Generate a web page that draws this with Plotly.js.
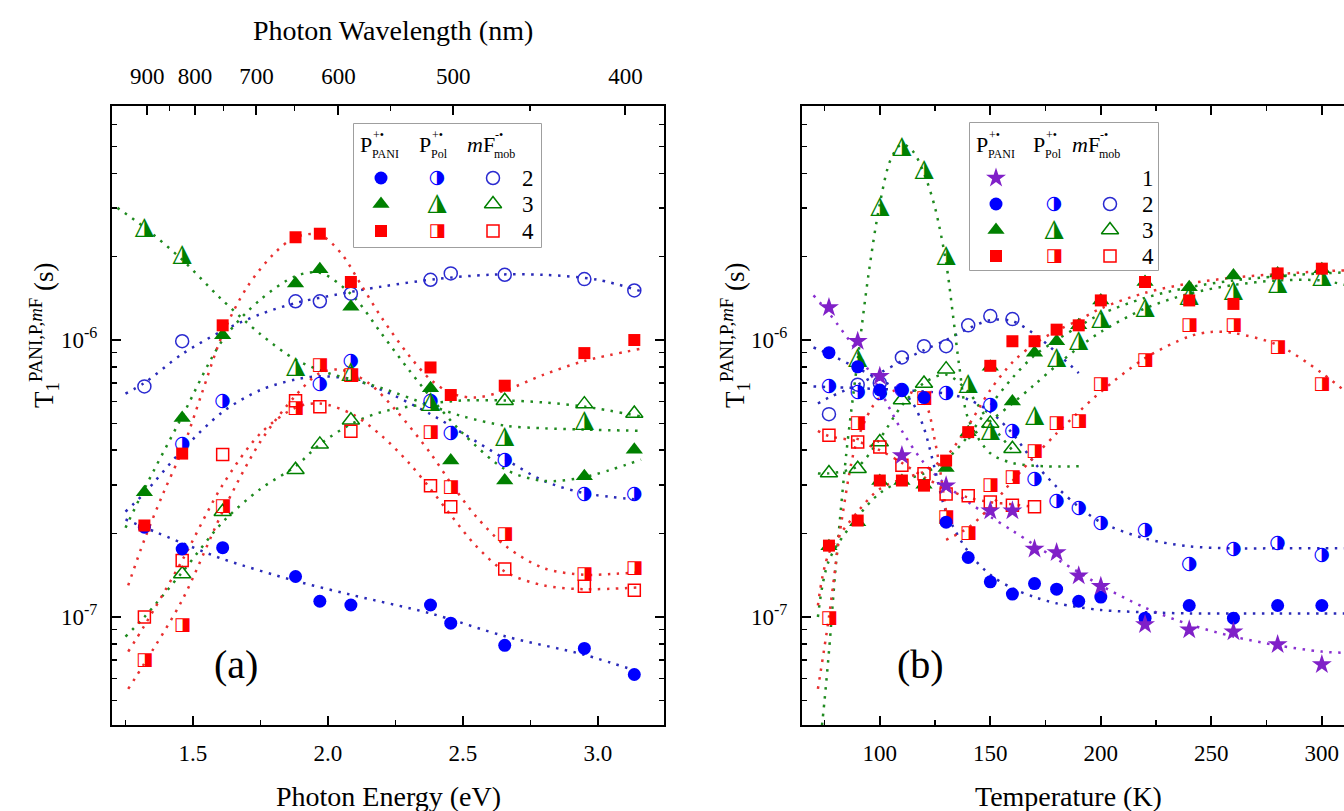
<!DOCTYPE html>
<html><head><meta charset="utf-8">
<script src="https://cdn.plot.ly/plotly-3.0.1.min.js"></script>
<style>html,body{margin:0;padding:0;overflow:hidden;background:#fff}#chart{width:1400px;height:811px}</style>
</head><body><div id="chart"></div>
<script>
// ---------------- Panel (a): photon energy (eV) ----------------
const energiesA = [1.32, 1.46, 1.61, 1.88, 1.97, 2.085, 2.38, 2.455, 2.655, 2.95, 3.135];
const a_pani2 = [2.11e-7, 1.76e-7, 1.78e-7, 1.40e-7, 1.14e-7, 1.105e-7, 1.105e-7, 9.5e-8, 7.9e-8, 7.7e-8, 6.2e-8];
const a_pol2  = [null, 4.2e-7, 6.0e-7, null, 6.9e-7, 8.4e-7, 6.0e-7, 4.6e-7, 3.67e-7, 2.78e-7, 2.78e-7];
const a_mf2   = [6.8e-7, 9.9e-7, null, 1.38e-6, 1.38e-6, 1.47e-6, 1.65e-6, 1.74e-6, 1.72e-6, 1.66e-6, 1.51e-6];
const a_pani3 = [2.82e-7, 5.23e-7, 1.04e-6, 1.6e-6, 1.8e-6, 1.32e-6, 6.7e-7, 3.67e-7, 3.11e-7, 3.22e-7, 4.02e-7];
const a_pol3  = [2.55e-6, 2.03e-6, null, 8.0e-7, null, 7.7e-7, 6.0e-7, null, 4.47e-7, 5.1e-7, null];
const a_mf3   = [null, 1.43e-7, 2.4e-7, 3.4e-7, 4.2e-7, 5.13e-7, null, null, 6.04e-7, 5.87e-7, 5.43e-7];
const a_pani4 = [2.14e-7, 3.89e-7, 1.13e-6, 2.35e-6, 2.42e-6, 1.62e-6, 7.96e-7, 6.33e-7, 6.84e-7, 8.97e-7, 1.0e-6];
const a_pol4  = [6.97e-8, 9.35e-8, 2.5e-7, 5.65e-7, 8.07e-7, 7.43e-7, 4.62e-7, 2.93e-7, 1.99e-7, 1.42e-7, 1.5e-7];
const a_mf4   = [1.0e-7, 1.6e-7, 3.86e-7, 6.03e-7, 5.74e-7, 4.68e-7, 2.98e-7, 2.5e-7, 1.49e-7, 1.29e-7, 1.25e-7];

// dotted fit curves
const fitA_pani2_x = [1.25, 1.46, 1.61, 1.88, 2.09, 2.38, 2.66, 2.95, 3.16];
const fitA_pani2_y = [2.25e-7, 1.85e-7, 1.62e-7, 1.35e-7, 1.2e-7, 1.03e-7, 8.5e-8, 7.3e-8, 6.3e-8];
const fitA_pol2_x = [1.25, 1.32, 1.46, 1.61, 1.75, 1.88, 1.97, 2.09, 2.2, 2.38, 2.5, 2.66, 2.8, 2.95, 3.16];
const fitA_pol2_y = [2.4e-7, 2.8e-7, 4.0e-7, 5.5e-7, 6.6e-7, 7.2e-7, 7.4e-7, 7.2e-7, 6.6e-7, 5.4e-7, 4.6e-7, 3.7e-7, 3.1e-7, 2.8e-7, 2.65e-7];
const fitA_mf2_x = [1.25, 1.32, 1.46, 1.61, 1.75, 1.88, 2.0, 2.2, 2.4, 2.6, 2.8, 3.0, 3.16];
const fitA_mf2_y = [6.4e-7, 7.0e-7, 8.9e-7, 1.08e-6, 1.24e-6, 1.36e-6, 1.44e-6, 1.56e-6, 1.66e-6, 1.72e-6, 1.72e-6, 1.65e-6, 1.5e-6];
const fitA_pani3_x = [1.25, 1.32, 1.46, 1.61, 1.75, 1.88, 1.97, 2.09, 2.2, 2.3, 2.4, 2.5, 2.66, 2.8, 2.95, 3.16];
const fitA_pani3_y = [2.1e-7, 2.9e-7, 5.3e-7, 1.0e-6, 1.4e-6, 1.7e-6, 1.75e-6, 1.45e-6, 1.05e-6, 7.8e-7, 5.9e-7, 4.6e-7, 3.4e-7, 3.1e-7, 3.2e-7, 3.7e-7];
const fitA_pol3_x = [1.22, 1.32, 1.46, 1.6, 1.75, 1.88, 2.0, 2.09, 2.2, 2.38, 2.5, 2.66, 2.8, 2.95, 3.16];
const fitA_pol3_y = [3.0e-6, 2.55e-6, 1.95e-6, 1.42e-6, 1.05e-6, 8.5e-7, 7.6e-7, 7.2e-7, 6.7e-7, 5.8e-7, 5.3e-7, 4.9e-7, 4.8e-7, 4.75e-7, 4.7e-7];
const fitA_mf3_x = [1.25, 1.32, 1.46, 1.61, 1.75, 1.88, 1.97, 2.09, 2.2, 2.38, 2.5, 2.66, 2.8, 2.95, 3.16];
const fitA_mf3_y = [8.5e-8, 1.0e-7, 1.45e-7, 2.2e-7, 2.9e-7, 3.5e-7, 4.2e-7, 5.0e-7, 5.5e-7, 5.9e-7, 6.05e-7, 6.05e-7, 5.95e-7, 5.75e-7, 5.3e-7];
const fitA_pani4_x = [1.26, 1.32, 1.39, 1.46, 1.53, 1.61, 1.7, 1.8, 1.88, 1.97, 2.05, 2.12, 2.2, 2.3, 2.38, 2.46, 2.55, 2.66, 2.8, 2.95, 3.16];
const fitA_pani4_y = [1.3e-7, 1.9e-7, 2.8e-7, 4.0e-7, 6.3e-7, 1.05e-6, 1.55e-6, 2.05e-6, 2.35e-6, 2.4e-6, 2.05e-6, 1.6e-6, 1.2e-6, 8.8e-7, 7.2e-7, 6.4e-7, 6.2e-7, 6.6e-7, 7.5e-7, 8.4e-7, 9.3e-7];
const fitA_pol4_x = [1.26, 1.32, 1.46, 1.61, 1.75, 1.88, 1.97, 2.05, 2.15, 2.25, 2.38, 2.46, 2.55, 2.66, 2.8, 2.95, 3.05, 3.16];
const fitA_pol4_y = [5.5e-8, 6.8e-8, 1.15e-7, 2.4e-7, 4.3e-7, 6.3e-7, 7.6e-7, 7.8e-7, 7.0e-7, 5.6e-7, 3.9e-7, 3.0e-7, 2.3e-7, 1.8e-7, 1.5e-7, 1.42e-7, 1.43e-7, 1.45e-7];
const fitA_mf4_x = [1.26, 1.32, 1.46, 1.61, 1.75, 1.88, 1.97, 2.09, 2.2, 2.3, 2.38, 2.46, 2.55, 2.66, 2.8, 2.95, 3.16];
const fitA_mf4_y = [7.5e-8, 9.3e-8, 1.6e-7, 3.0e-7, 4.6e-7, 5.7e-7, 5.9e-7, 5.4e-7, 4.5e-7, 3.6e-7, 2.9e-7, 2.3e-7, 1.8e-7, 1.45e-7, 1.3e-7, 1.26e-7, 1.28e-7];

// top axis: photon wavelength (nm)
const wavelengthTicks = [900, 800, 700, 600, 500, 400];
const wavelengthMinor = [850, 750, 650, 550, 450];

// ---------------- Panel (b): temperature (K) ----------------
const tempsB = [77, 90, 100, 110, 120, 130, 140, 150, 160, 170, 180, 190, 200, 220, 240, 260, 280, 300];
const b_pani1 = [1.31e-6, 9.9e-7, 7.4e-7, 3.83e-7, null, 2.98e-7, null, 2.42e-7, 2.42e-7, 1.76e-7, 1.71e-7, 1.41e-7, 1.29e-7, 9.4e-8, 9.0e-8, 8.85e-8, 7.96e-8, 6.74e-8];
const b_pani2 = [9.0e-7, 8.0e-7, 6.6e-7, 6.6e-7, 6.2e-7, 2.2e-7, 1.64e-7, 1.34e-7, 1.21e-7, 1.32e-7, 1.26e-7, 1.14e-7, 1.18e-7, 9.9e-8, 1.1e-7, 9.9e-8, 1.1e-7, 1.1e-7];
const b_pol2  = [6.8e-7, 6.5e-7, 6.4e-7, 6.6e-7, null, 6.45e-7, null, 5.8e-7, 4.7e-7, 3.14e-7, 2.62e-7, 2.47e-7, 2.18e-7, 2.05e-7, 1.55e-7, 1.76e-7, 1.84e-7, 1.67e-7];
const b_mf2   = [5.4e-7, 6.9e-7, 7.0e-7, 8.65e-7, 9.5e-7, 9.5e-7, 1.13e-6, 1.22e-6, 1.19e-6, null, null, null, null, null, null, null, null, null];
const b_pani3 = [1.8e-7, 2.2e-7, 3.1e-7, 3.1e-7, 3.0e-7, 3.45e-7, 4.65e-7, 8.0e-7, 6.0e-7, 9.0e-7, 9.9e-7, 1.13e-6, 1.39e-6, 1.62e-6, 1.55e-6, 1.71e-6, 1.74e-6, 1.8e-6];
const b_pol3  = [null, 8.6e-7, 3.02e-6, 4.99e-6, 4.11e-6, 2.02e-6, 6.97e-7, 4.7e-7, null, 5.35e-7, 8.65e-7, 9.9e-7, 1.19e-6, 1.31e-6, 1.45e-6, 1.51e-6, 1.6e-6, 1.69e-6];
const b_mf3   = [3.31e-7, 3.43e-7, 4.28e-7, 6.07e-7, 6.97e-7, 7.85e-7, null, 5.0e-7, 4.05e-7, null, null, null, null, null, null, null, null, null];
const b_pani4 = [1.81e-7, 2.23e-7, 3.11e-7, 3.11e-7, 2.98e-7, 3.67e-7, 4.65e-7, 8.07e-7, 9.9e-7, 9.9e-7, 1.09e-6, 1.13e-6, 1.39e-6, 1.62e-6, 1.39e-6, 1.35e-6, 1.74e-6, 1.81e-6];
const b_pol4  = [9.9e-8, 4.99e-7, null, null, 6.15e-7, 2.29e-7, 2.0e-7, 2.98e-7, 3.2e-7, 3.97e-7, 4.99e-7, 5.09e-7, 6.93e-7, 8.46e-7, 1.13e-6, 1.13e-6, 9.4e-7, 6.93e-7];
const b_mf4   = [4.53e-7, 4.28e-7, 4.11e-7, 3.53e-7, 3.29e-7, 2.78e-7, 2.74e-7, 2.6e-7, 2.53e-7, 2.5e-7, null, null, null, null, null, null, null, null];

// dotted fit curves
const fitB_pani1_x = [70, 77, 90, 100, 110, 120, 130, 140, 150, 160, 170, 180, 190, 200, 220, 240, 260, 280, 300, 315];
const fitB_pani1_y = [1.45e-6, 1.25e-6, 9.0e-7, 6.6e-7, 4.7e-7, 3.6e-7, 3.0e-7, 2.6e-7, 2.3e-7, 2.05e-7, 1.82e-7, 1.62e-7, 1.45e-7, 1.3e-7, 1.08e-7, 9.4e-8, 8.5e-8, 7.9e-8, 7.5e-8, 7.4e-8];
const fitB_pani2_x = [70, 77, 90, 100, 110, 115, 120, 125, 130, 140, 150, 160, 170, 180, 200, 220, 240, 260, 280, 300, 315];
const fitB_pani2_y = [9.4e-7, 8.9e-7, 7.9e-7, 7.2e-7, 6.5e-7, 5.9e-7, 4.8e-7, 3.4e-7, 2.4e-7, 1.72e-7, 1.42e-7, 1.27e-7, 1.18e-7, 1.12e-7, 1.06e-7, 1.04e-7, 1.03e-7, 1.03e-7, 1.03e-7, 1.03e-7, 1.03e-7];
const fitB_pol2_x = [70, 90, 110, 130, 140, 150, 160, 170, 180, 190, 200, 220, 240, 260, 280, 300, 315];
const fitB_pol2_y = [6.8e-7, 6.7e-7, 6.6e-7, 6.4e-7, 6.1e-7, 5.5e-7, 4.6e-7, 3.6e-7, 2.95e-7, 2.5e-7, 2.2e-7, 1.92e-7, 1.8e-7, 1.77e-7, 1.77e-7, 1.77e-7, 1.77e-7];
const fitB_mf2_x = [72, 77, 90, 100, 110, 120, 130, 140, 150, 160, 170, 180, 190];
const fitB_mf2_y = [5.9e-7, 6.2e-7, 6.9e-7, 7.6e-7, 8.4e-7, 9.2e-7, 1.0e-6, 1.1e-6, 1.18e-6, 1.17e-6, 1.05e-6, 9.0e-7, 7.6e-7];
const fitB_pani3_x = [72, 77, 90, 100, 110, 120, 130, 140, 150, 160, 170, 180, 190, 200, 220, 240, 260, 280, 300, 315];
const fitB_pani3_y = [1.0e-7, 1.6e-7, 2.3e-7, 2.8e-7, 3.1e-7, 3.3e-7, 3.7e-7, 4.5e-7, 5.8e-7, 7.3e-7, 8.8e-7, 1.0e-6, 1.12e-6, 1.24e-6, 1.42e-6, 1.55e-6, 1.64e-6, 1.7e-6, 1.74e-6, 1.76e-6];
const fitB_pol3hump_x = [73, 75, 77, 80, 85, 90, 95, 100, 105, 110, 115, 120, 125, 130, 133, 136, 140, 150, 160, 175, 190];
const fitB_pol3hump_y = [3.5e-8, 5e-8, 7.5e-8, 1.5e-7, 4.0e-7, 8.5e-7, 1.75e-6, 3.1e-6, 4.5e-6, 5.1e-6, 4.8e-6, 4.0e-6, 3.0e-6, 1.9e-6, 1.25e-6, 8.0e-7, 5.2e-7, 3.9e-7, 3.6e-7, 3.5e-7, 3.5e-7];
const fitB_pol3high_x = [140, 150, 160, 170, 180, 190, 200, 220, 240, 260, 280, 300, 315];
const fitB_pol3high_y = [4.4e-7, 5.1e-7, 5.9e-7, 6.9e-7, 8.1e-7, 9.4e-7, 1.07e-6, 1.3e-6, 1.47e-6, 1.58e-6, 1.64e-6, 1.64e-6, 1.55e-6];
const fitB_mf3_x = [72, 77, 90, 100, 110, 120, 130, 140, 150, 160];
const fitB_mf3_y = [3.3e-7, 3.3e-7, 3.5e-7, 4.4e-7, 5.8e-7, 7.0e-7, 7.5e-7, 6.5e-7, 5.0e-7, 4.0e-7];
const fitB_pani4_x = [72, 77, 90, 100, 110, 120, 130, 140, 150, 160, 170, 180, 190, 200, 220, 240, 260, 280, 300, 315];
const fitB_pani4_y = [1.1e-7, 1.7e-7, 2.4e-7, 2.9e-7, 3.15e-7, 3.35e-7, 3.8e-7, 4.9e-7, 6.6e-7, 8.3e-7, 9.7e-7, 1.08e-6, 1.18e-6, 1.3e-6, 1.48e-6, 1.6e-6, 1.68e-6, 1.73e-6, 1.77e-6, 1.79e-6];
const fitB_pol4low_x = [72, 77, 83, 90, 100, 110, 120, 125, 130];
const fitB_pol4low_y = [5.5e-8, 1.0e-7, 2.3e-7, 4.4e-7, 6.2e-7, 6.6e-7, 6.0e-7, 4.3e-7, 2.4e-7];
const fitB_pol4high_x = [130, 140, 150, 160, 170, 180, 190, 200, 220, 240, 250, 260, 280, 300, 315];
const fitB_pol4high_y = [1.9e-7, 2.1e-7, 2.5e-7, 3.1e-7, 3.8e-7, 4.6e-7, 5.5e-7, 6.5e-7, 8.6e-7, 1.03e-6, 1.07e-6, 1.06e-6, 9.6e-7, 7.6e-7, 6.1e-7];
const fitB_mf4_x = [72, 77, 90, 100, 110, 120, 130, 140, 150, 160, 170];
const fitB_mf4_y = [4.7e-7, 4.5e-7, 4.3e-7, 4.0e-7, 3.6e-7, 3.2e-7, 2.9e-7, 2.7e-7, 2.6e-7, 2.55e-7, 2.5e-7];

// y-axis tick labels
const yMajorVals = [1e-7, 1e-6];
const yMajorText = ['10<sup>-7</sup>', '10<sup>-6</sup>'];
const yMinorVals = [5e-8, 6e-8, 7e-8, 8e-8, 9e-8, 2e-7, 3e-7, 4e-7, 5e-7, 6e-7, 7e-7, 8e-7, 9e-7, 2e-6, 3e-6, 4e-6, 5e-6, 6e-6, 7e-6];

// legend rows
const legendRowsA = ['2', '3', '4'];
const legendRowsB = ['1', '2', '3', '4'];

// ---------------- styling / layout ----------------
const SERIF = 'Liberation Serif, Times New Roman, serif';
const BLUE = '#0000ff', GREEN = '#008000', RED = '#ff0000', PURPLE = '#8020c8';
const BLUE_D = '#2a2ab8', GREEN_D = '#1f8a1f', RED_D = '#e83030', PURPLE_D = '#8a30d0';
const KIND = {
  pani1: {symbol: 'star', size: 15, color: PURPLE},
  pani2: {symbol: 'circle', size: 13, color: BLUE},
  pol2:  {glyph: '\u25D1', gsize: 19, color: BLUE},
  mf2:   {symbol: 'circle-open', size: 13, color: '#2a2ad0', lw: 1.5},
  pani3: {symbol: 'triangle-up', size: 15, color: GREEN},
  pol3:  {glyph: '\u25EE', gsize: 25, color: GREEN, dy: -1},
  mf3:   {symbol: 'triangle-up-open', size: 15, color: GREEN, lw: 1.5},
  pani4: {symbol: 'square', size: 12, color: RED},
  pol4:  {glyph: '\u25E8', gsize: 18, color: RED},
  mf4:   {symbol: 'square-open', size: 12, color: RED, lw: 1.5}
};

const W = 1400, H = 811, ML = 112, MR = 45, MT = 106, MB = 86;
const PW = W - ML - MR, PH = H - MT - MB;
const fx = px => (px - ML) / PW;
const fy = py => (MT + PH - py) / PH;

function series(xs0, ys0, kind, xa, ya) {
  const s = KIND[kind];
  const idx = ys0.map((v, i) => i).filter(i => ys0[i] !== null);
  const xs = idx.map(i => xs0[i]), ys = idx.map(i => ys0[i]);
  if (s.glyph) {
    return {type: 'scatter', mode: 'text', x: xs, y: ys, text: xs.map(() => s.glyph),
      textposition: 'middle center', textfont: {family: 'DejaVu Sans', size: s.gsize, color: s.color},
      xaxis: xa, yaxis: ya, hoverinfo: 'skip', cliponaxis: false};
  }
  return {type: 'scatter', mode: 'markers', x: xs, y: ys, xaxis: xa, yaxis: ya, cliponaxis: false,
    marker: {symbol: s.symbol, size: s.size, color: s.color, line: {color: s.color, width: s.lw || 0}}};
}
function fit(xs, ys, color, xa, ya) {
  return {type: 'scatter', mode: 'lines', x: xs, y: ys, xaxis: xa, yaxis: ya, hoverinfo: 'skip',
    line: {shape: 'spline', smoothing: 0.9, color: color, width: 2.5, dash: '2.5px,6.5px'}};
}

const traces = [];
// fits (a)
traces.push(fit(fitA_pani2_x, fitA_pani2_y, BLUE_D, 'x', 'y'));
traces.push(fit(fitA_pol2_x, fitA_pol2_y, BLUE_D, 'x', 'y'));
traces.push(fit(fitA_mf2_x, fitA_mf2_y, BLUE_D, 'x', 'y'));
traces.push(fit(fitA_pani3_x, fitA_pani3_y, GREEN_D, 'x', 'y'));
traces.push(fit(fitA_pol3_x, fitA_pol3_y, GREEN_D, 'x', 'y'));
traces.push(fit(fitA_mf3_x, fitA_mf3_y, GREEN_D, 'x', 'y'));
traces.push(fit(fitA_pani4_x, fitA_pani4_y, RED_D, 'x', 'y'));
traces.push(fit(fitA_pol4_x, fitA_pol4_y, RED_D, 'x', 'y'));
traces.push(fit(fitA_mf4_x, fitA_mf4_y, RED_D, 'x', 'y'));
// fits (b)
traces.push(fit(fitB_pani1_x, fitB_pani1_y, PURPLE_D, 'x2', 'y2'));
traces.push(fit(fitB_pani2_x, fitB_pani2_y, BLUE_D, 'x2', 'y2'));
traces.push(fit(fitB_pol2_x, fitB_pol2_y, BLUE_D, 'x2', 'y2'));
traces.push(fit(fitB_mf2_x, fitB_mf2_y, BLUE_D, 'x2', 'y2'));
traces.push(fit(fitB_pani3_x, fitB_pani3_y, GREEN_D, 'x2', 'y2'));
traces.push(fit(fitB_pol3hump_x, fitB_pol3hump_y, GREEN_D, 'x2', 'y2'));
traces.push(fit(fitB_pol3high_x, fitB_pol3high_y, GREEN_D, 'x2', 'y2'));
traces.push(fit(fitB_mf3_x, fitB_mf3_y, GREEN_D, 'x2', 'y2'));
traces.push(fit(fitB_pani4_x, fitB_pani4_y, RED_D, 'x2', 'y2'));
traces.push(fit(fitB_pol4low_x, fitB_pol4low_y, RED_D, 'x2', 'y2'));
traces.push(fit(fitB_pol4high_x, fitB_pol4high_y, RED_D, 'x2', 'y2'));
traces.push(fit(fitB_mf4_x, fitB_mf4_y, RED_D, 'x2', 'y2'));

// markers (a)
[['mf2', a_mf2], ['mf3', a_mf3], ['mf4', a_mf4], ['pol2', a_pol2], ['pol3', a_pol3], ['pol4', a_pol4],
 ['pani2', a_pani2], ['pani3', a_pani3], ['pani4', a_pani4]].forEach(([k, v]) => traces.push(series(energiesA, v, k, 'x', 'y')));
// markers (b)
[['mf2', b_mf2], ['mf3', b_mf3], ['mf4', b_mf4], ['pol2', b_pol2], ['pol3', b_pol3], ['pol4', b_pol4],
 ['pani2', b_pani2], ['pani3', b_pani3], ['pani4', b_pani4], ['pani1', b_pani1]].forEach(([k, v]) => traces.push(series(tempsB, v, k, 'x2', 'y2')));

// invisible trace to carry the top wavelength axis
traces.push({type: 'scatter', mode: 'markers', x: [1.5], y: [1e-6], xaxis: 'x3', yaxis: 'y', marker: {opacity: 0}, hoverinfo: 'skip'});

// legend tables (drawn on hidden axes whose units are page pixels)
const legA = {cols: [381, 437, 493], rows: [178, 204, 231], num: 528, box: [354, 541, 124, 247], head: 144};
const legB = {cols: [996, 1054, 1110], rows: [178, 204, 230, 256], num: 1148, box: [970, 1158, 123, 270], head: 144};
const legendKindsA = [['pani2', 'pol2', 'mf2'], ['pani3', 'pol3', 'mf3'], ['pani4', 'pol4', 'mf4']];
const legendKindsB = [['pani1', null, null], ['pani2', 'pol2', 'mf2'], ['pani3', 'pol3', 'mf3'], ['pani4', 'pol4', 'mf4']];
function legendTraces(leg, kinds, xa, ya) {
  kinds.forEach((row, r) => row.forEach((k, c) => { if (k) traces.push(series([leg.cols[c]], [leg.rows[r]], k, xa, ya)); }));
}
legendTraces(legA, legendKindsA, 'x4', 'y4');
legendTraces(legB, legendKindsB, 'x5', 'y5');

const axLine = {showline: true, linecolor: 'black', linewidth: 2, ticks: 'inside', ticklen: 9, tickwidth: 2,
  tickcolor: 'black', showgrid: false, zeroline: false, tickfont: {family: SERIF, size: 23, color: 'black'}};
const minorTick = {ticks: 'inside', ticklen: 5, tickwidth: 1.5, tickcolor: 'black', showgrid: false};

const yCommon = Object.assign({}, axLine, {type: 'log', range: [-7.39, -5.155], domain: [0, 1], mirror: 'ticks',
  tickmode: 'array', tickvals: yMajorVals, ticktext: yMajorText, ticklabelstandoff: 8,
  minor: Object.assign({tickmode: 'array', tickvals: yMinorVals}, minorTick)});

const hidden = {visible: false, fixedrange: true, showgrid: false, zeroline: false};

const annotations = [];
function ann(px, py, text, size, opts) {
  annotations.push(Object.assign({xref: 'paper', yref: 'paper', x: fx(px), y: fy(py), text: text, showarrow: false,
    font: {family: SERIF, size: size, color: 'black'}, xanchor: 'center', yanchor: 'middle'}, opts || {}));
}
// axis titles
ann(388, 796, 'Photon Energy (eV)', 28);
ann(1068, 796, 'Temperature (K)', 28);
ann(393, 30, 'Photon Wavelength (nm)', 28);
const yTitle = 'T<sub>1</sub><sup>PANI,P,<i>m</i>F</sup> (s)';
ann(44, 335, yTitle, 27, {textangle: -90});
ann(735, 335, yTitle, 27, {textangle: -90});
// panel labels
ann(236, 664, '(a)', 40);
ann(920, 664, '(b)', 40);
// legend headers: [main text, superscript, subscript]
const headerParts = [['P', '+\u2022', 'PANI'], ['P', '+\u2022', 'Pol'], ['<i>m</i>F', '-\u2022', 'mob']];
const headerMainW = [13, 13, 28];
function headers(leg, lefts) {
  headerParts.forEach((h, i) => {
    const L = lefts[i];
    ann(L, leg.head, h[0], 22, {xanchor: 'left'});
    ann(L + headerMainW[i], leg.head - 9, h[1], 12, {xanchor: 'left'});
    ann(L + headerMainW[i] - 1, leg.head + 10, h[2], 12, {xanchor: 'left'});
  });
}
headers(legA, [358, 417, 465]);
headers(legB, [974, 1031, 1070]);
legendRowsA.forEach((t, r) => ann(legA.num, legA.rows[r], t, 23));
legendRowsB.forEach((t, r) => ann(legB.num, legB.rows[r], t, 23));

const shapes = [legA, legB].map(l => ({type: 'rect', xref: 'paper', yref: 'paper', layer: 'below',
  x0: fx(l.box[0]), x1: fx(l.box[1]), y0: fy(l.box[3]), y1: fy(l.box[2]),
  line: {color: '#808080', width: 1.5}, fillcolor: 'white'}));

const layout = {
  width: W, height: H, margin: {l: ML, r: MR, t: MT, b: MB, pad: 0},
  paper_bgcolor: 'white', plot_bgcolor: 'white', showlegend: false,
  xaxis: Object.assign({}, axLine, {domain: [0, fx(664)], range: [1.2, 3.245], anchor: 'y', mirror: false,
    tickmode: 'linear', tick0: 0, dtick: 0.5, tickformat: '.1f', ticklabelstandoff: 6,
    minor: Object.assign({tickmode: 'linear', tick0: 0, dtick: 0.25}, minorTick)}),
  xaxis3: Object.assign({}, axLine, {overlaying: 'x', side: 'top', anchor: 'y', range: [1.009, 2.612],
    tickmode: 'array', tickvals: wavelengthTicks.map(l => 1000 / l), ticktext: wavelengthTicks.map(String),
    ticklabelstandoff: 11,
    minor: Object.assign({tickmode: 'array', tickvals: wavelengthMinor.map(l => 1000 / l)}, minorTick)}),
  yaxis: Object.assign({}, yCommon, {anchor: 'x'}),
  xaxis2: Object.assign({}, axLine, {domain: [fx(802), 1], range: [64.8, 315], anchor: 'y2', mirror: 'ticks',
    tickmode: 'linear', tick0: 0, dtick: 50, ticklabelstandoff: 6,
    minor: Object.assign({tickmode: 'linear', tick0: 0, dtick: 25}, minorTick)}),
  yaxis2: Object.assign({}, yCommon, {anchor: 'x2'}),
  xaxis4: Object.assign({}, hidden, {domain: [fx(legA.box[0]), fx(legA.box[1])], range: [legA.box[0], legA.box[1]], anchor: 'y4'}),
  yaxis4: Object.assign({}, hidden, {domain: [fy(legA.box[3]), fy(legA.box[2])], range: [legA.box[3], legA.box[2]], anchor: 'x4'}),
  xaxis5: Object.assign({}, hidden, {domain: [fx(legB.box[0]), fx(legB.box[1])], range: [legB.box[0], legB.box[1]], anchor: 'y5'}),
  yaxis5: Object.assign({}, hidden, {domain: [fy(legB.box[3]), fy(legB.box[2])], range: [legB.box[3], legB.box[2]], anchor: 'x5'}),
  annotations: annotations,
  shapes: shapes
};

Plotly.newPlot('chart', traces, layout, {staticPlot: true, displayModeBar: false});
</script></body></html>
